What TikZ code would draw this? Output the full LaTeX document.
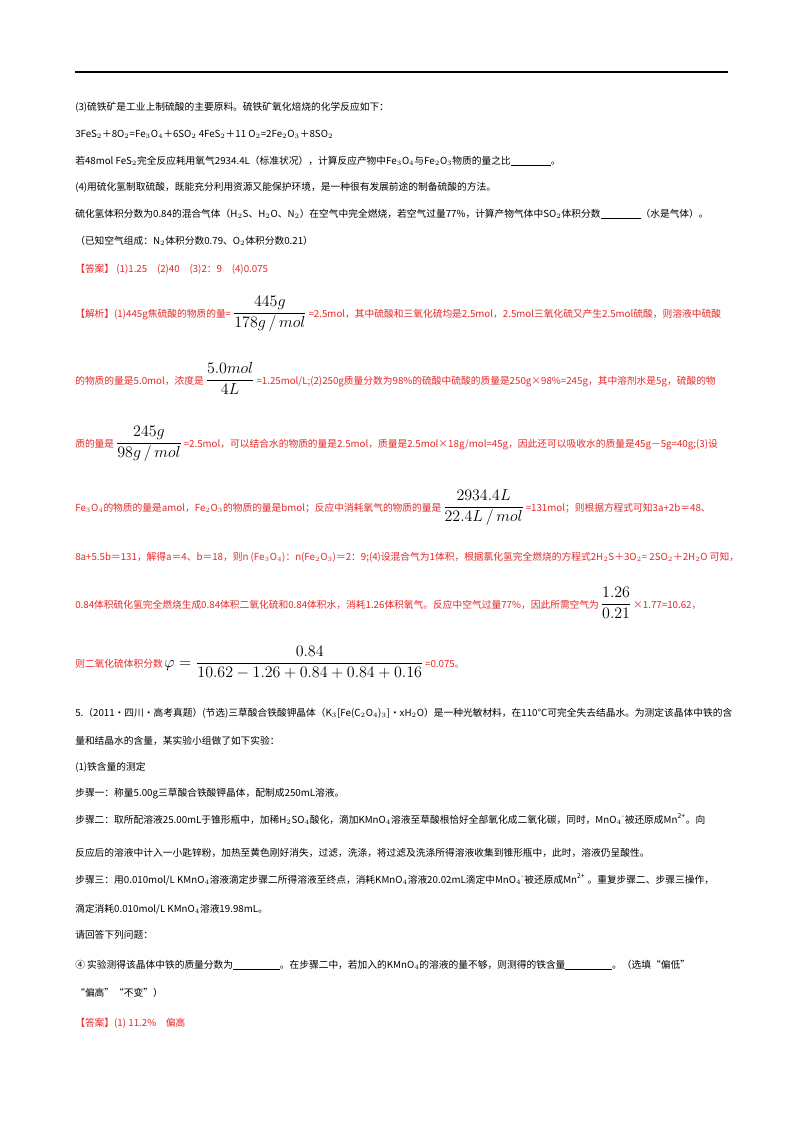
\documentclass[tikz,border=0pt]{standalone}
\usepackage{amsmath}
\usepackage{fontspec}
\setmainfont{Noto Sans CJK SC}
\begin{document}
\begin{tikzpicture}[x=0.75pt,y=-0.75pt,
 t/.style={anchor=base west,inner sep=0pt,font=\fontsize{7.3}{9}\selectfont},
 r/.style={t,text=ansred}]
\definecolor{ansred}{RGB}{232,40,40}
\newcommand{\fr}[1]{\,{\color{black}\fontsize{11.5}{13}\selectfont$#1$}\,}
\useasboundingbox (0,0) rectangle (800,1132);
\fill[white] (0,0) rectangle (800,1132);
\coordinate (ra) at (75,72); \coordinate (rb) at (728,72);
\draw[line width=1.2pt] (ra) -- (rb);
\node[t] (l1) at (75,110) {(3)硫铁矿是工业上制硫酸的主要原料。硫铁矿氧化焙烧的化学反应如下：};
\node[t] (l2) at (75,137) {3FeS$_2$＋8O$_2$=Fe$_3$O$_4$＋6SO$_2$ 4FeS$_2$＋11 O$_2$=2Fe$_2$O$_3$＋8SO$_2$};
\node[t] (l3) at (75,164) {若48mol FeS$_2$完全反应耗用氧气2934.4L（标准状况），计算反应产物中Fe$_3$O$_4$与Fe$_2$O$_3$物质的量之比\rule[-1pt]{30pt}{0.4pt}。};
\node[t] (l4) at (75,190) {(4)用硫化氢制取硫酸，既能充分利用资源又能保护环境，是一种很有发展前途的制备硫酸的方法。};
\node[t] (l5) at (75,217) {硫化氢体积分数为0.84的混合气体（H$_2$S、H$_2$O、N$_2$）在空气中完全燃烧，若空气过量77\%，计算产物气体中SO$_2$体积分数\rule[-1pt]{30pt}{0.4pt}（水是气体）。};
\node[t] (l6) at (75,244) {（已知空气组成：N$_2$体积分数0.79、O$_2$体积分数0.21）};
\node[r] (a1) at (75,272) {【答案】 (1)1.25\quad (2)40\quad (3)2：9\quad (4)0.075};
\node[r] (a2) at (75,317) {【解析】(1)445g焦硫酸的物质的量=\fr{\dfrac{445g}{178g\,/\,mol}}=2.5mol，其中硫酸和三氧化硫均是2.5mol，2.5mol三氧化硫又产生2.5mol硫酸，则溶液中硫酸};
\node[r] (a3) at (75,384) {的物质的量是5.0mol，浓度是\fr{\dfrac{5.0mol}{4L}}=1.25mol/L;(2)250g质量分数为98\%的硫酸中硫酸的质量是250g×98\%=245g，其中溶剂水是5g，硫酸的物};
\node[r] (a4) at (75,447) {质的量是\fr{\dfrac{245g}{98g\,/\,mol}}=2.5mol，可以结合水的物质的量是2.5mol，质量是2.5mol×18g/mol=45g，因此还可以吸收水的质量是45g－5g=40g;(3)设};
\node[r] (a5) at (75,511) {Fe$_3$O$_4$的物质的量是amol，Fe$_2$O$_3$的物质的量是bmol；反应中消耗氧气的物质的量是\fr{\dfrac{2934.4L}{22.4L\,/\,mol}}=131mol；则根据方程式可知3a+2b＝48、};
\node[r] (a6) at (75,560) {8a+5.5b＝131，解得a＝4、b＝18，则n (Fe$_3$O$_4$)：n(Fe$_2$O$_3$)＝2：9;(4)设混合气为1体积，根据氯化氢完全燃烧的方程式2H$_2$S＋3O$_2$= 2SO$_2$＋2H$_2$O 可知，};
\node[r] (a7) at (75,608) {0.84体积硫化氢完全燃烧生成0.84体积二氧化硫和0.84体积水，消耗1.26体积氧气。反应中空气过量77\%，因此所需空气为\fr{\dfrac{1.26}{0.21}}×1.77=10.62，};
\node[r] (a8) at (75,667) {则二氧化硫体积分数\fr{\varphi=\dfrac{0.84}{10.62-1.26+0.84+0.84+0.16}}=0.075。};
\node[t] (q1) at (75,716) {5.（2011·四川·高考真题）(节选)三草酸合铁酸钾晶体（K$_3$[Fe(C$_2$O$_4$)$_3$]·xH$_2$O）是一种光敏材料，在110℃可完全失去结晶水。为测定该晶体中铁的含};
\node[t] (q2) at (75,744) {量和结晶水的含量，某实验小组做了如下实验：};
\node[t] (q3) at (75,770) {(1)铁含量的测定};
\node[t] (q4) at (75,796) {步骤一：称量5.00g三草酸合铁酸钾晶体，配制成250mL溶液。};
\node[t] (q5) at (75,823) {步骤二：取所配溶液25.00mL于锥形瓶中，加稀H$_2$SO$_4$酸化，滴加KMnO$_4$溶液至草酸根恰好全部氧化成二氧化碳，同时，MnO$_4$\textsuperscript{-}被还原成Mn\textsuperscript{2+}。向};
\node[t] (q6) at (75,856) {反应后的溶液中计入一小匙锌粉，加热至黄色刚好消失，过滤，洗涤，将过滤及洗涤所得溶液收集到锥形瓶中，此时，溶液仍呈酸性。};
\node[t] (q7) at (75,883) {步骤三：用0.010mol/L KMnO$_4$溶液滴定步骤二所得溶液至终点，消耗KMnO$_4$溶液20.02mL滴定中MnO$_4$\textsuperscript{-}被还原成Mn\textsuperscript{2+} 。重复步骤二、步骤三操作，};
\node[t] (q8) at (75,912) {滴定消耗0.010mol/L KMnO$_4$溶液19.98mL。};
\node[t] (q9) at (75,938) {请回答下列问题：};
\node[t] (q10) at (75,968) {④ 实验测得该晶体中铁的质量分数为\rule[-1pt]{35pt}{0.4pt}。在步骤二中，若加入的KMnO$_4$的溶液的量不够，则测得的铁含量\rule[-1pt]{35pt}{0.4pt}。（选填“偏低”};
\node[t] (q11) at (75,996) {“偏高”“不变”）};
\node[r] (q12) at (75,1026) {【答案】(1) 11.2\%\quad 偏高};
\end{tikzpicture}
\end{document}
